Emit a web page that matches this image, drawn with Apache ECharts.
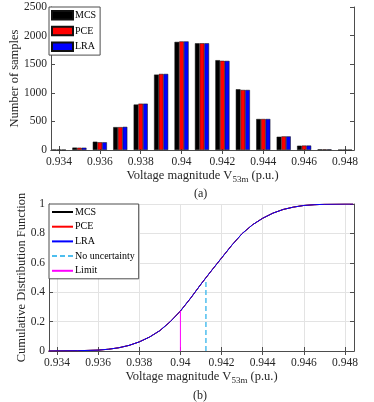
<!DOCTYPE html>
<html>
<head>
<meta charset="utf-8">
<script src="https://cdn.jsdelivr.net/npm/echarts@6/dist/echarts.min.js"></script>
<style>
  html, body { margin: 0; background: #fff; }
  #chart { width: 374px; height: 402px; }
</style>
</head>
<body>
<div id="chart"></div>
<script>
(function() {
  // --- data ---
  var bins = [0.934, 0.935, 0.936, 0.937, 0.938, 0.939, 0.940, 0.941, 0.942, 0.943, 0.944, 0.945, 0.946, 0.947, 0.948];
  var mcsCount = [8, 42, 145, 400, 795, 1318, 1890, 1866, 1570, 1062, 542, 232, 75, 12, 4];
  var pceCount = [5, 40, 135, 400, 810, 1330, 1898, 1866, 1560, 1050, 542, 238, 78, 12, 3];
  var lraCount = [5, 40, 135, 405, 810, 1330, 1898, 1866, 1558, 1050, 542, 238, 78, 12, 3];

  var cdfX   = [0.9336, 0.934, 0.935, 0.936, 0.9365, 0.937, 0.9375, 0.938, 0.9385, 0.939, 0.9395, 0.940, 0.9405, 0.941, 0.9415, 0.942, 0.9425, 0.943, 0.9435, 0.944, 0.9445, 0.945, 0.9455, 0.946, 0.9465, 0.947, 0.948, 0.9484];
  var cdfMcs = [0, 0.0005, 0.002, 0.006, 0.012, 0.022, 0.038, 0.062, 0.095, 0.138, 0.198, 0.272, 0.36, 0.455, 0.545, 0.632, 0.72, 0.798, 0.858, 0.903, 0.938, 0.963, 0.979, 0.99, 0.995, 0.998, 1, 1];
  var cdfPce = [0, 0.0005, 0.002, 0.006, 0.012, 0.022, 0.038, 0.062, 0.095, 0.139, 0.199, 0.272, 0.36, 0.455, 0.545, 0.633, 0.72, 0.799, 0.858, 0.903, 0.938, 0.963, 0.979, 0.99, 0.995, 0.998, 1, 1];
  var cdfLra = [0, 0.0005, 0.002, 0.006, 0.012, 0.022, 0.038, 0.062, 0.095, 0.139, 0.199, 0.272, 0.36, 0.455, 0.545, 0.633, 0.72, 0.799, 0.858, 0.903, 0.938, 0.963, 0.979, 0.99, 0.995, 0.998, 1, 1];

  var noUncertainty = [0.94124, 0.49];
  var limit = [0.940, 0.272];

  var xTicks = [0.934, 0.936, 0.938, 0.940, 0.942, 0.944, 0.946, 0.948];

  var font = 'Liberation Serif';
  var ink = '#262626';
  var axisCol = '#4d4d4d';
  var xMin = 0.93361, xMax = 0.94844;

  function pairs(xs, ys) {
    return xs.map(function(x, i) { return [x, ys[i]]; });
  }
  function fmtX(v) { return String(+v.toFixed(3)); }

  function xAxisPair(grid, withGrid) {
    return [{
      type: 'value', gridIndex: grid, min: xMin, max: xMax, position: 'bottom',
      name: 'Voltage magnitude V{s|53m} (p.u.)', nameLocation: 'middle', nameGap: 18,
      nameMoveOverlap: false,
      nameTextStyle: {
        fontFamily: font, fontSize: 12.5, color: ink, verticalAlign: 'top',
        rich: { s: { fontFamily: font, fontSize: 9, color: ink, padding: [7, 0, 0, 0] } }
      },
      axisLine: { show: true, lineStyle: { color: axisCol, width: 1 } },
      axisTick: { show: true, inside: true, length: 4, customValues: xTicks, lineStyle: { color: axisCol } },
      axisLabel: { customValues: xTicks, formatter: fmtX, fontFamily: font, fontSize: 11.5, color: ink, margin: 6 },
      splitLine: { show: withGrid, lineStyle: { color: '#e3e3e3', width: 1 } }
    }, {
      type: 'value', gridIndex: grid, min: xMin, max: xMax, position: 'top',
      axisLine: { show: true, lineStyle: { color: axisCol, width: 1 } },
      axisTick: { show: true, inside: true, length: 4, customValues: xTicks, lineStyle: { color: axisCol } },
      axisLabel: { show: false, customValues: xTicks },
      splitLine: { show: false }
    }];
  }

  function yAxisPair(grid, max, interval, name, gap, ticksFmt, withGrid) {
    return [{
      type: 'value', gridIndex: grid, min: 0, max: max, interval: interval, position: 'left',
      name: name, nameLocation: 'middle', nameGap: gap, nameMoveOverlap: false,
      nameTextStyle: { fontFamily: font, fontSize: 12.5, color: ink },
      axisLine: { show: true, lineStyle: { color: axisCol, width: 1 } },
      axisTick: { show: true, inside: true, length: 4, lineStyle: { color: axisCol } },
      axisLabel: { fontFamily: font, fontSize: 11.5, color: ink, margin: 4, formatter: ticksFmt },
      splitLine: { show: withGrid, lineStyle: { color: '#e3e3e3', width: 1 } }
    }, {
      type: 'value', gridIndex: grid, min: 0, max: max, interval: interval, position: 'right',
      axisLine: { show: true, lineStyle: { color: axisCol, width: 1 } },
      axisTick: { show: true, inside: true, length: 4, lineStyle: { color: axisCol } },
      axisLabel: { show: false },
      splitLine: { show: false }
    }];
  }

  function barSeries(name, color, counts) {
    return {
      name: name, type: 'bar', xAxisIndex: 0, yAxisIndex: 0,
      data: pairs(bins, counts), barWidth: 4.7, barGap: '0%',
      itemStyle: { color: color, borderColor: '#111', borderWidth: 0.5 },
      animation: false
    };
  }

  function lineSeries(name, color, xs, ys, dashed, width) {
    return {
      name: name, type: 'line', xAxisIndex: 2, yAxisIndex: 2,
      data: pairs(xs, ys), symbol: 'none', smooth: false,
      lineStyle: { color: color, width: width || 1, type: dashed ? [5, 3] : 'solid' },
      itemStyle: { color: color },
      animation: false
    };
  }

  var legendCommon = {
    orient: 'vertical', left: 49, itemWidth: 21, itemHeight: 8.5,
    backgroundColor: '#fff', borderColor: axisCol, borderWidth: 1, borderRadius: 0,
    textStyle: { fontFamily: font, fontSize: 10, color: '#000', padding: [0, 0, 0, -3] },
    formatter: function(n) { return n.trim(); },
    selectedMode: false
  };

  var chart = echarts.init(document.getElementById('chart'), null, { renderer: 'canvas' });
  chart.setOption({
    animation: false,
    backgroundColor: '#fff',
    grid: [
      { left: 49, right: 20, top: 7, height: 143 },
      { left: 49, right: 20, top: 204, height: 147 }
    ],
    xAxis: xAxisPair(0, false).concat(xAxisPair(1, true)),
    yAxis: yAxisPair(0, 2500, 500, 'Number of samples', 30, function(v) { return String(v); }, false)
      .concat(yAxisPair(1, 1, 0.2, 'Cumulative Distribution Function', 21, function(v) { return String(+v.toFixed(1)); }, true)),
    legend: [
      Object.assign({}, legendCommon, {
        top: 7, itemGap: 5.3, padding: [3, 4, 3, 2], icon: 'rect',
        data: ['MCS', 'PCE', 'LRA']
      }),
      Object.assign({}, legendCommon, {
        top: 204, itemGap: 4.7, padding: [3, 4, 3, 2],
        itemStyle: { opacity: 0 },
        data: ['MCS ', 'PCE ', 'LRA ', 'No uncertainty', 'Limit']
      })
    ],
    graphic: [
      { type: 'text', left: 194, top: 188, style: { text: '(a)', fontFamily: font, fontSize: 12, fill: ink } },
      { type: 'text', left: 193, top: 390, style: { text: '(b)', fontFamily: font, fontSize: 12, fill: ink } }
    ],
    series: [
      barSeries('MCS', '#000000', mcsCount),
      barSeries('PCE', '#ff0000', pceCount),
      barSeries('LRA', '#0000ff', lraCount),
      lineSeries('MCS ', '#000000', cdfX, cdfMcs),
      lineSeries('PCE ', '#ff0000', cdfX, cdfPce),
      lineSeries('LRA ', '#0000ff', cdfX, cdfLra),
      lineSeries('No uncertainty', '#4dbeee', [noUncertainty[0], noUncertainty[0]], [0, noUncertainty[1]], true, 1.5),
      lineSeries('Limit', '#ff00ff', [limit[0], limit[0]], [0, limit[1]], false, 1)
    ]
  });
  window.addEventListener('resize', function() { chart.resize(); });
})();
</script>
</body>
</html>
